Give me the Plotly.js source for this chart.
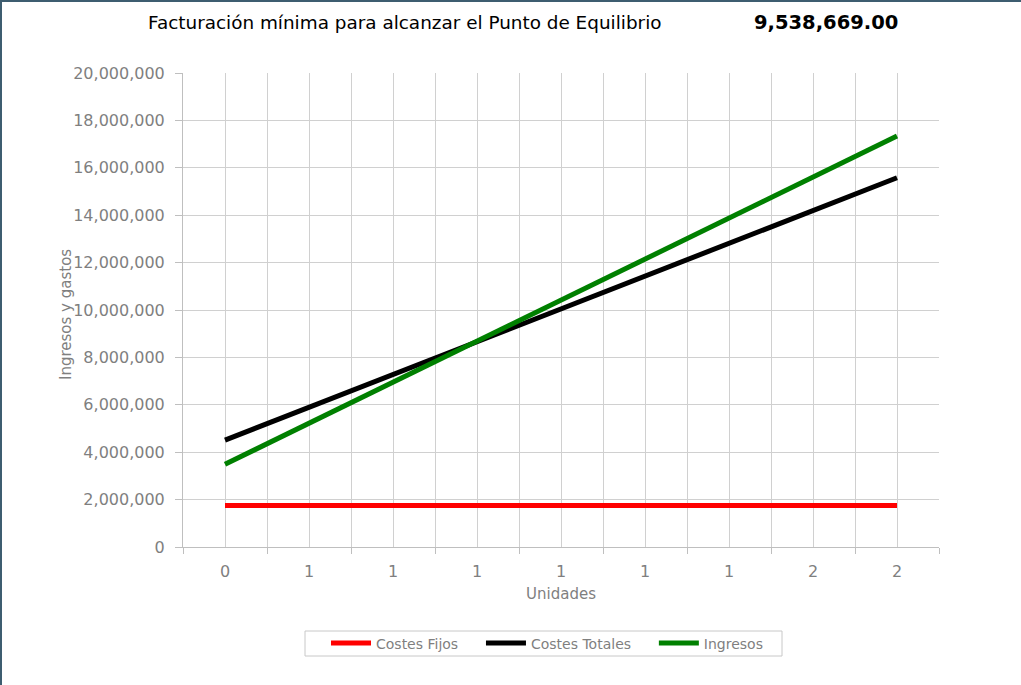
<!DOCTYPE html>
<html>
<head>
<meta charset="utf-8">
<script src="https://cdn.plot.ly/plotly-3.0.1.min.js"></script>
<style>
  html, body { margin: 0; padding: 0; background: #fff; }
  #wrap { position: relative; width: 1021px; height: 685px; overflow: hidden; }
  #chart { position: absolute; left: 0; top: 0; width: 1021px; height: 685px; }
  #frame { position: absolute; left: 0; top: 0; width: 1021px; height: 685px; box-sizing: border-box;
           border-left: 2px solid #3e5d70; border-top: 2px solid #3e5d70; pointer-events: none; }
</style>
</head>
<body>
<div id="wrap"><div id="chart"></div><div id="frame"></div></div>
<script>
// Data
const xIndex = [0, 1, 2, 3, 4, 5, 6, 7, 8];
const unitLabels = ["0", "1", "1", "1", "1", "1", "1", "2", "2"];
const costesFijos = [1750000, 1750000, 1750000, 1750000, 1750000, 1750000, 1750000, 1750000, 1750000];
const costesTotales = [4510000, 5890000, 7270000, 8660000, 10040000, 11420000, 12810000, 14190000, 15580000];
const ingresos = [3490000, 5220000, 6950000, 8680000, 10420000, 12160000, 13880000, 15610000, 17340000];
const seriesNames = ["Costes Fijos", "Costes Totales", "Ingresos"];
const titleText = "Facturación mínima para alcanzar el Punto de Equilibrio";
const breakEvenText = "9,538,669.00";

const gridColor = "#d0d0d0";
const tickColor = "#7f7f7f";
const mainFont = "DejaVu Sans, Verdana, sans-serif";
const pad = "\u00a0\u00a0\u00a0\u00a0";

const traces = [
  { x: xIndex, y: costesFijos, name: seriesNames[0] + pad, type: "scatter", mode: "lines",
    line: { color: "#ff0000", width: 5 } },
  { x: xIndex, y: costesTotales, name: seriesNames[1] + pad, type: "scatter", mode: "lines",
    line: { color: "#000000", width: 5 } },
  { x: xIndex, y: ingresos, name: seriesNames[2], type: "scatter", mode: "lines",
    line: { color: "#008000", width: 5 } }
];

const plotL = 183, plotR = 939, plotT = 73, plotB = 547;
const plotW = plotR - plotL, plotH = plotB - plotT;
const px = v => (v - plotL) / plotW;
const py = v => (plotB - v) / plotH;

const layout = {
  width: 1021, height: 685,
  margin: { l: plotL, r: 1021 - plotR, t: plotT, b: 685 - plotB, pad: 0 },
  paper_bgcolor: "#ffffff", plot_bgcolor: "#ffffff",
  showlegend: true,
  legend: {
    orientation: "h", x: px(326), y: py(643.5), xanchor: "left", yanchor: "middle",
    borderwidth: 0, bgcolor: "rgba(0,0,0,0)",
    font: { family: mainFont, size: 14, color: tickColor },
    itemwidth: 40, tracegroupgap: 0
  },
  shapes: [
    { type: "rect", xref: "paper", yref: "paper", x0: px(305), x1: px(782), y0: py(631), y1: py(656),
      line: { color: "#c8c8c8", width: 1 }, fillcolor: "rgba(0,0,0,0)", layer: "below" }
  ],
  xaxis: {
    range: [-0.5, 8.5], tickmode: "array", tickvals: xIndex, ticktext: unitLabels,
    showgrid: true, gridcolor: gridColor, gridwidth: 1,
    ticks: "", showline: true, linecolor: "#bfbfbf", linewidth: 1, zeroline: false,
    tickfont: { family: mainFont, size: 16, color: tickColor },
    ticklabelstandoff: 10,
    minor: { tick0: -0.5, dtick: 1, showgrid: true, gridcolor: gridColor, gridwidth: 1,
             ticks: "outside", ticklen: 6, tickcolor: "#bfbfbf" },
    title: { text: "Unidades", font: { family: mainFont, size: 15, color: tickColor }, standoff: 8 },
    fixedrange: true
  },
  yaxis: {
    range: [0, 20000000], dtick: 2000000, tickformat: ",",
    showgrid: true, gridcolor: gridColor, gridwidth: 1,
    ticks: "outside", ticklen: 7, tickcolor: "#bfbfbf",
    showline: true, linecolor: "#bfbfbf", linewidth: 1, zeroline: false,
    tickfont: { family: mainFont, size: 16, color: tickColor },
    ticklabelstandoff: 7,
    fixedrange: true
  },
  annotations: [
    { text: titleText, xref: "paper", yref: "paper", x: px(405), y: py(22),
      xanchor: "center", yanchor: "middle", showarrow: false,
      font: { family: "DejaVu Sans, sans-serif", size: 18.4, color: "#000000" } },
    { text: "<b>" + breakEvenText + "</b>", xref: "paper", yref: "paper", x: px(826), y: py(22),
      xanchor: "center", yanchor: "middle", showarrow: false,
      font: { family: "DejaVu Sans, sans-serif", size: 19.5, color: "#000000" } },
    { text: "Ingresos y gastos", xref: "paper", yref: "paper", x: px(66), y: py(315),
      xanchor: "center", yanchor: "middle", showarrow: false, textangle: -90,
      font: { family: mainFont, size: 15, color: tickColor } }
  ]
};

Plotly.newPlot("chart", traces, layout, { displayModeBar: false, staticPlot: true });
</script>
</body>
</html>
